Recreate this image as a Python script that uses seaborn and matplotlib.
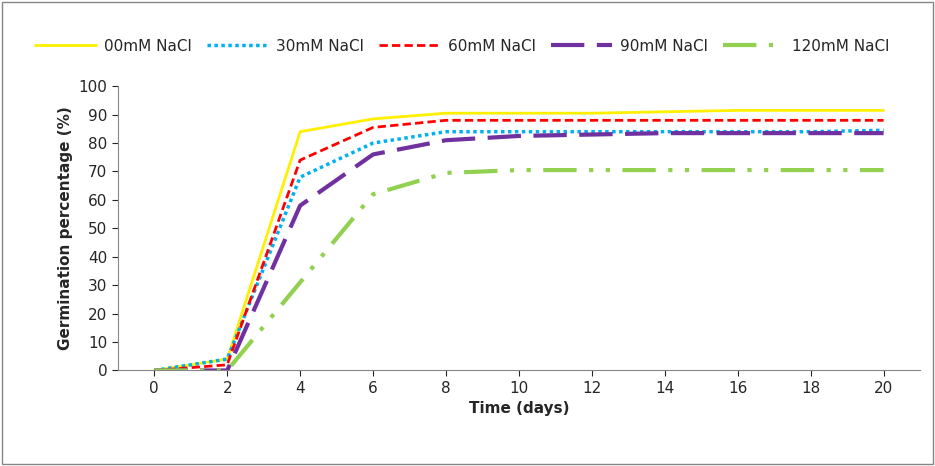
import pandas as pd
import numpy as np
import matplotlib.pyplot as plt
import seaborn as sns

days = [0, 2, 4, 6, 8, 10, 12, 14, 16, 18, 20]
g00 = [0, 4, 84, 88.5, 90.5, 90.5, 90.5, 91, 91.5, 91.5, 91.5]
g30 = [0, 4, 68, 80, 84, 84, 84, 84, 84, 84, 84.5]
g60 = [0, 2, 74, 85.5, 88, 88, 88, 88, 88, 88, 88]
g90 = [0, 0, 58, 76, 81, 82.5, 83, 83.5, 83.5, 83.5, 83.5]
g120 = [0, 0, 31, 62, 69.5, 70.5, 70.5, 70.5, 70.5, 70.5, 70.5]

labels = ['00mM NaCl', '30mM NaCl', '60mM NaCl', '90mM NaCl', '120mM NaCl']
colors = ['#FFEF00', '#00B0F0', '#FF0000', '#7030A0', '#92D050']
styles = ['-', (0, (1, 1)), (0, (3, 1.5)), (0, (8, 3)), (0, (8, 3, 1, 3, 1, 3))]
widths = [2, 2.5, 2, 3, 3]

df = pd.DataFrame({'day': days * 5,
                   'value': g00 + g30 + g60 + g90 + g120,
                   'series': sum([[l] * len(days) for l in labels], [])})

sns.set_style("white")
plt.rcParams['font.family'] = ['DejaVu Sans']

fig = plt.figure(figsize=(9.35, 4.66), dpi=100)
ax = fig.add_axes([0.126, 0.205, 0.858, 0.61])

for lab, c, ls, lw in zip(labels, colors, styles, widths):
    sub = df[df.series == lab]
    sns.lineplot(x='day', y='value', data=sub, ax=ax, color=c, linewidth=lw, label=lab)
    ax.lines[-1].set_linestyle(ls)

ax.set_xlim(-1, 21)
ax.set_ylim(0, 100)
ax.set_xticks(days)
ax.set_yticks(range(0, 101, 10))
ax.tick_params(axis='both', labelsize=11, direction='out', length=4, left=True, bottom=True)
for s in ['top', 'right']:
    ax.spines[s].set_visible(False)
for s in ['left', 'bottom']:
    ax.spines[s].set_color('#868686')
ax.set_xlabel('Time (days)', fontsize=11, fontweight='bold')
ax.set_ylabel('Germination percentage (%)', fontsize=11, fontweight='bold')
ax.legend(loc='upper left', bbox_to_anchor=(-0.12, 1.215), ncol=5, frameon=False,
          fontsize=11, handlelength=4, columnspacing=1.0, handletextpad=0.5)

fig.patches.append(plt.Rectangle((0.002, 0.004), 0.996, 0.992, transform=fig.transFigure,
                                 fill=False, edgecolor='#868686', linewidth=1))
fig.savefig('out.png', dpi=100)
